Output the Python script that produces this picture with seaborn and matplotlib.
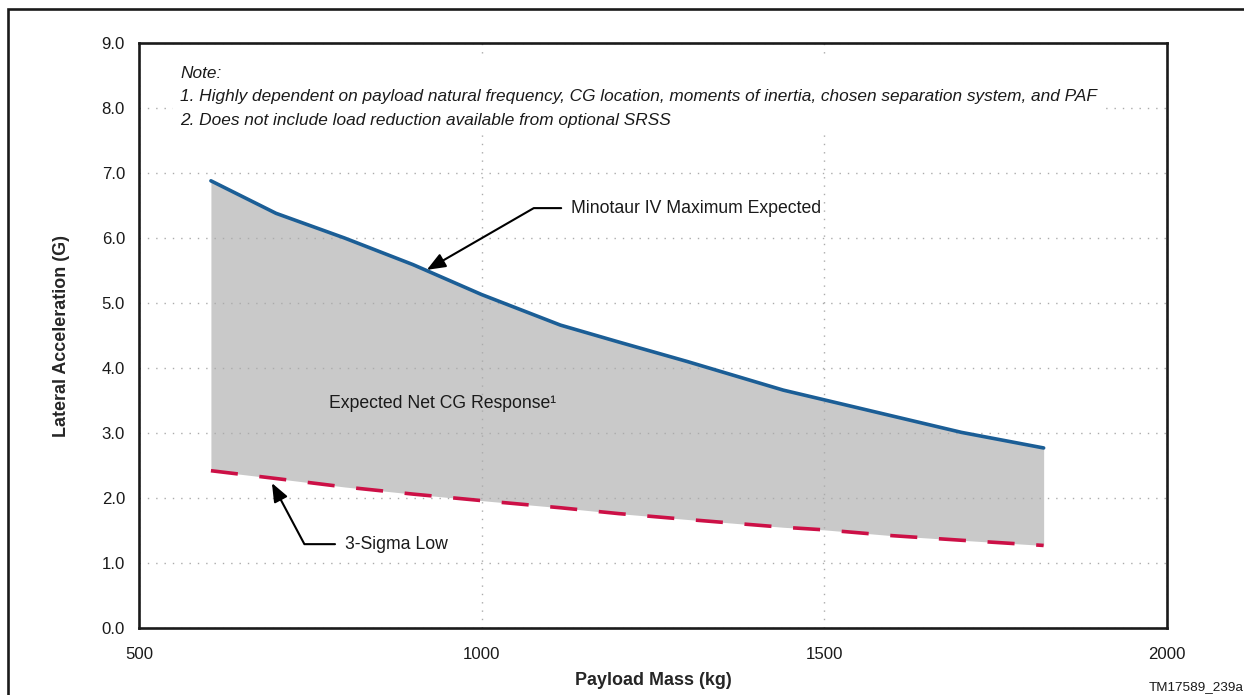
import numpy as np
import pandas as pd
import seaborn as sns
import matplotlib.pyplot as plt
from matplotlib import font_manager
from matplotlib.patches import Rectangle

# values
payload_mass = [605, 700, 800, 900, 1000, 1115, 1200, 1300, 1440, 1500, 1600, 1700, 1820]
max_expected = [6.88, 6.38, 6.00, 5.59, 5.13, 4.66, 4.40, 4.10, 3.66, 3.51, 3.26, 3.01, 2.77]
sigma_low = [2.42, 2.30, 2.17, 2.06, 1.96, 1.85, 1.76, 1.67, 1.55, 1.51, 1.42, 1.35, 1.27]

x_ticks = [500, 1000, 1500, 2000]
y_ticks = [0, 1, 2, 3, 4, 5, 6, 7, 8, 9]

note_lines = [
    "Note:",
    "1. Highly dependent on payload natural frequency, CG location, moments of inertia, chosen separation system, and PAF",
    "2. Does not include load reduction available from optional SRSS",
]

df = pd.DataFrame({"mass": payload_mass, "upper": max_expected, "lower": sigma_low})

sns.set_style("white")

# narrow font if there is one, otherwise shrink the regular one
try:
    font_manager.findfont("Liberation Sans Narrow", fallback_to_default=False)
    family, k = "Liberation Sans Narrow", 1.0
except Exception:
    family, k = "Liberation Sans", 0.83
plt.rcParams["font.family"] = [family, "DejaVu Sans"]

blue = "#1b5e96"
red = "#cc1046"

fig = plt.figure(figsize=(12.44, 6.95), dpi=100)
ax = fig.add_axes([0.1117, 0.0964, 0.8264, 0.8417])

ax.fill_between(df["mass"], df["lower"], df["upper"], color="#c9c9c9", lw=0, zorder=0.4)
sns.lineplot(data=df, x="mass", y="upper", color=blue, lw=2.6, ax=ax, zorder=3)
sns.lineplot(data=df, x="mass", y="lower", color=red, lw=2.6, ax=ax, zorder=3)
ax.lines[-1].set_dashes((7.5, 6))

ax.set_xlim(500, 2000)
ax.set_ylim(0, 9)
ax.set_xticks(x_ticks)
ax.set_yticks(y_ticks)
ax.set_yticklabels([f"{v:.1f}" for v in y_ticks])
ax.set_axisbelow(True)
ax.grid(True, color="#ababab", lw=1.0, ls=(0, (1, 5)))

for s in ax.spines.values():
    s.set_linewidth(1.9)
    s.set_color("#1a1a1a")

ax.tick_params(axis="y", direction="inout", length=6, width=1.2, pad=7,
               labelsize=14.5 * k, colors="#1a1a1a")
ax.tick_params(axis="x", direction="in", length=8, width=1.2, pad=14,
               labelsize=14.5 * k, colors="#1a1a1a")

ax.set_xlabel("Payload Mass (kg)", fontsize=15.5 * k, fontweight="bold")
ax.set_ylabel("Lateral Acceleration (G)", fontsize=15.5 * k, fontweight="bold")
ax.xaxis.set_label_coords(0.5, -0.075)
ax.yaxis.set_label_coords(-0.067, 0.5)

ax.text(0.04, 0.961, "\n".join(note_lines), transform=ax.transAxes, ha="left", va="top",
        fontsize=15 * k, style="italic", linespacing=1.72, color="#1a1a1a", zorder=4,
        bbox=dict(boxstyle="square,pad=0.4", fc="white", ec="none"))

ax.text(777, 3.46, "Expected Net CG Response\u00b9", ha="left", va="center",
        fontsize=15.3 * k, color="#1a1a1a", zorder=4)

arrow = dict(arrowstyle="-|>,head_length=0.45,head_width=0.18", mutation_scale=25,
             color="black", lw=1.5, shrinkA=5, shrinkB=0)
ax.annotate("Minotaur IV Maximum Expected", xy=(920, 5.51), xytext=(1131, 6.46),
            ha="left", va="center", fontsize=15.3 * k, color="#1a1a1a", zorder=5,
            arrowprops=dict(arrow, relpos=(0, 0.5),
                            connectionstyle="angle,angleA=0,angleB=30,rad=0"))
ax.annotate("3-Sigma Low", xy=(694, 2.23), xytext=(801, 1.29),
            ha="left", va="center", fontsize=15.3 * k, color="#1a1a1a", zorder=5,
            arrowprops=dict(arrow, relpos=(0, 0.5),
                            connectionstyle="angle,angleA=0,angleB=-62,rad=0"))

fig.text(0.9995, 0.012, "TM17589_239a", ha="right", va="center",
         fontsize=11.7 * k, color="#1a1a1a")

# frame of the original page, only its top and left edges show
fig.patches.append(Rectangle((0.0064, -0.1), 1.2, 1.087, fill=False, lw=1.9,
                             ec="#1a1a1a", transform=fig.transFigure))

fig.savefig("out.png", dpi=100, facecolor="white")
